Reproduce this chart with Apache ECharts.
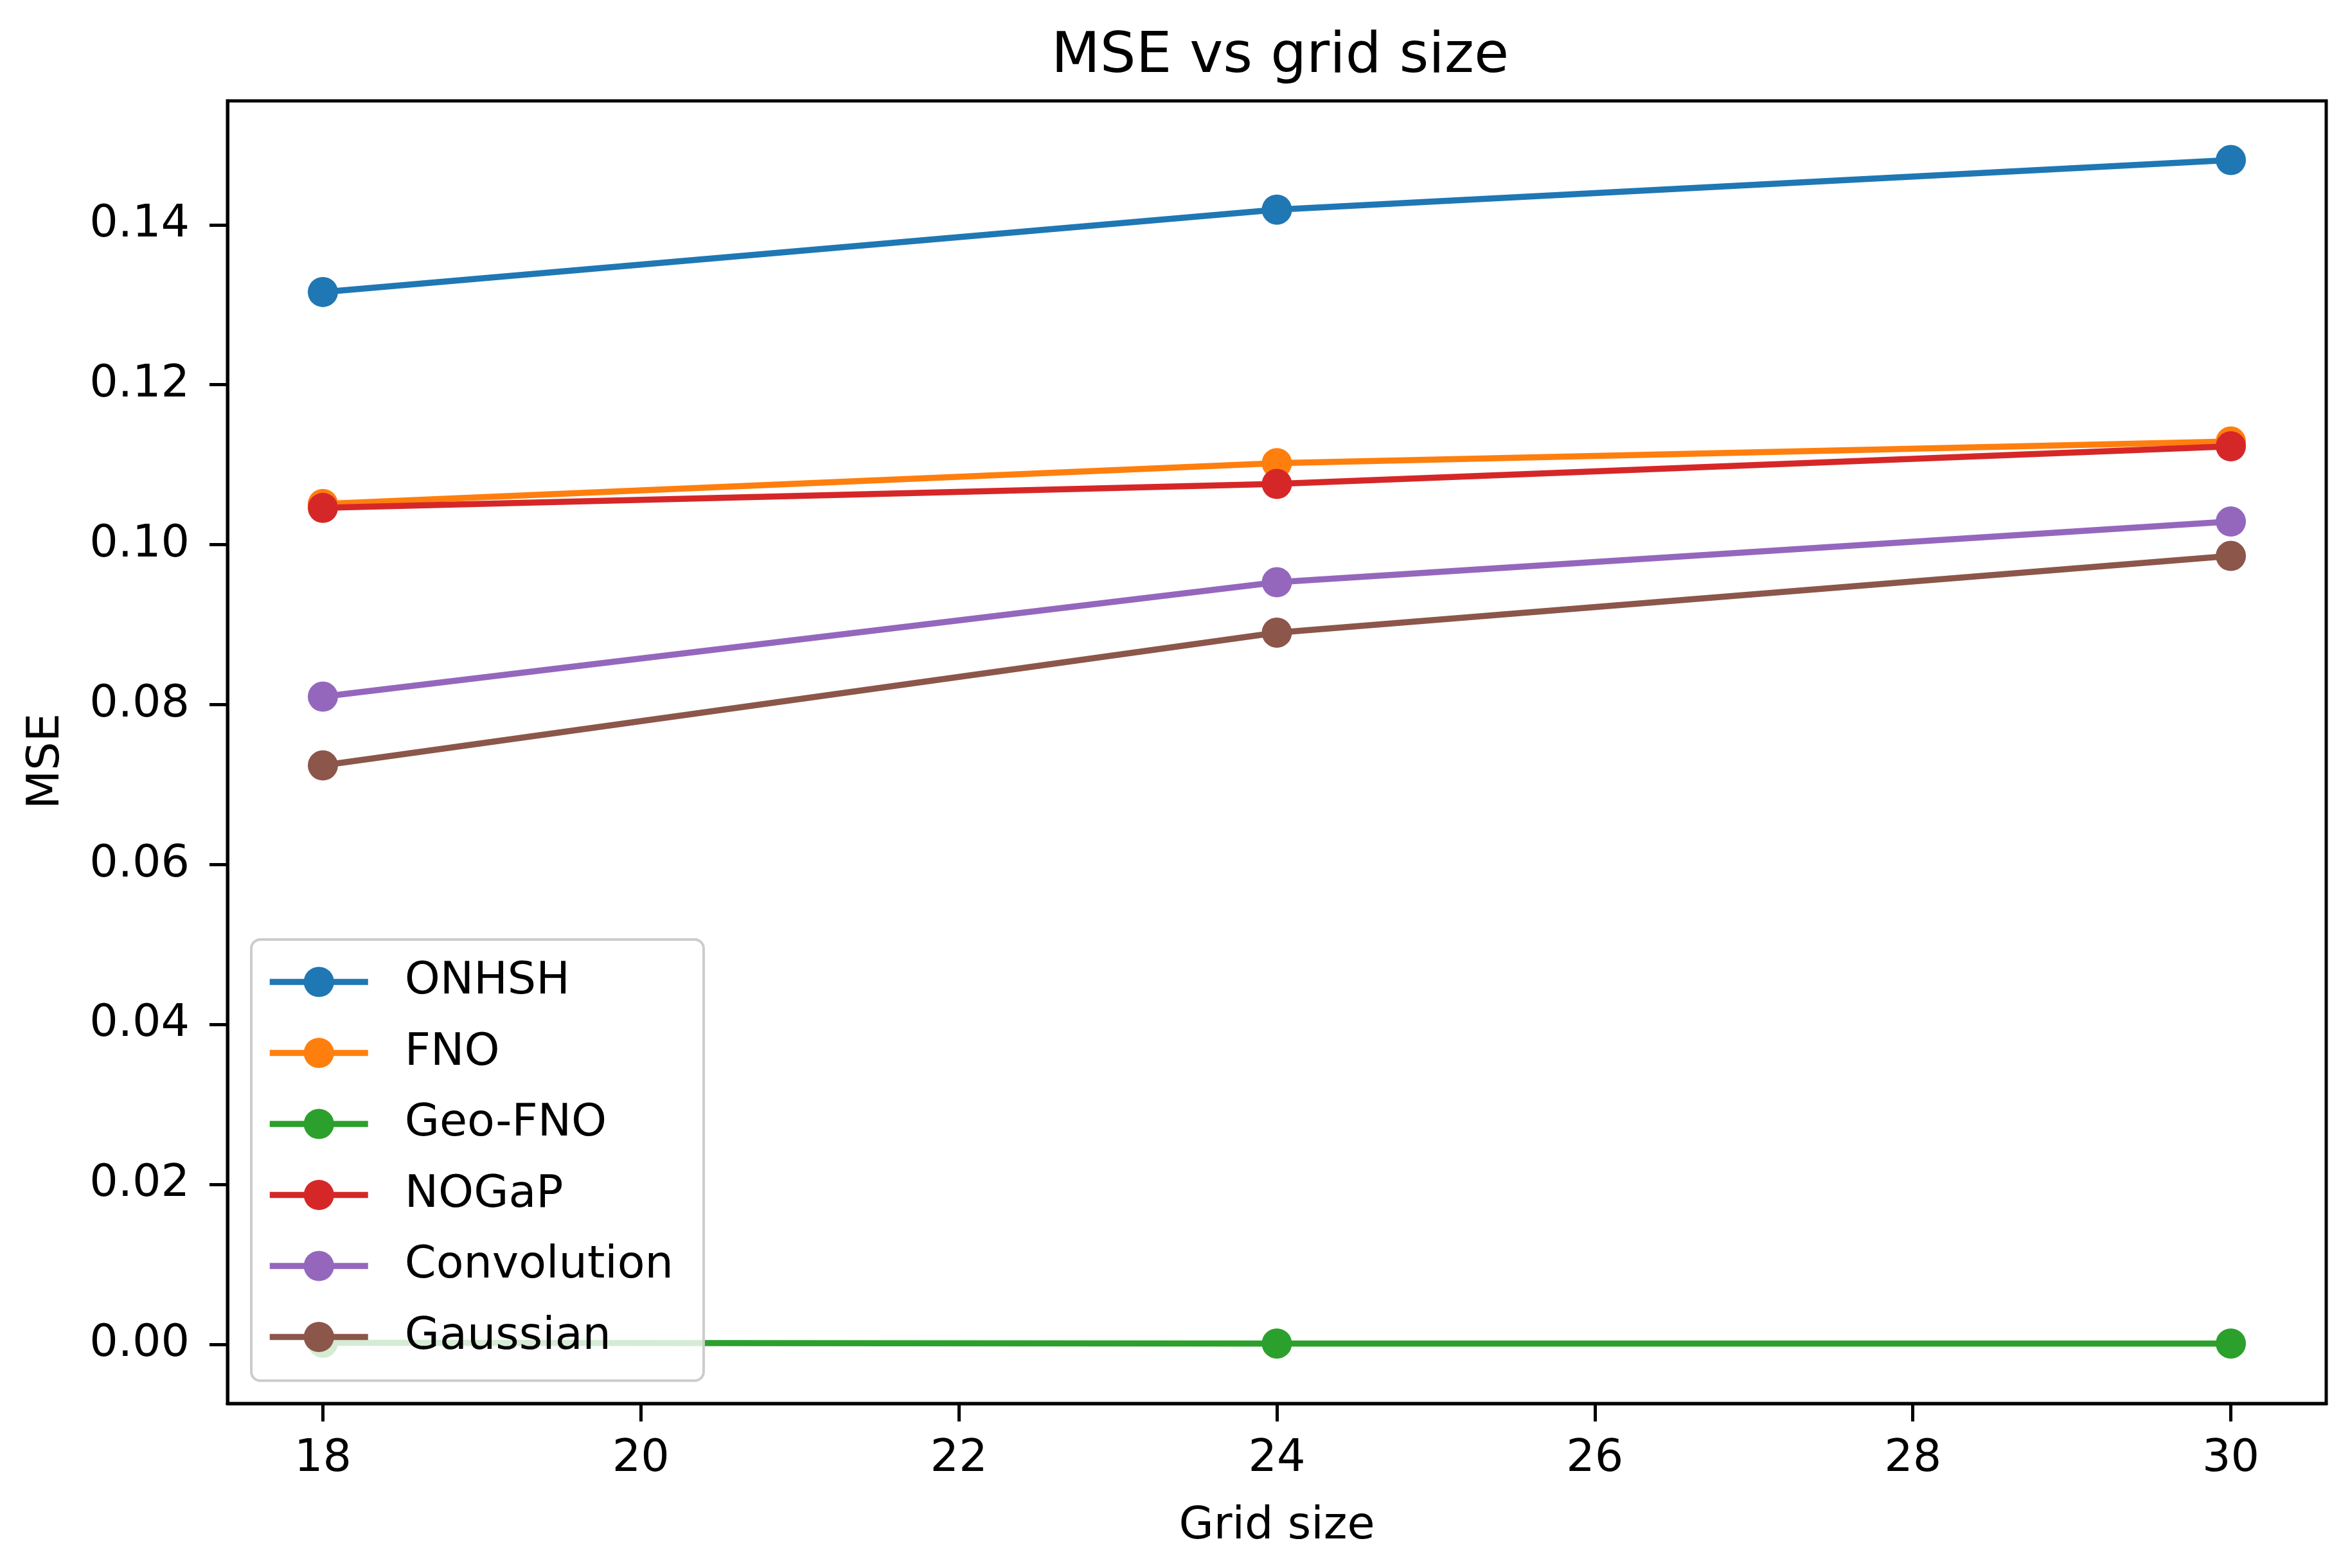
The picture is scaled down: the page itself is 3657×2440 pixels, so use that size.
<!DOCTYPE html>
<html>
<head>
<meta charset="utf-8">
<script src="https://cdn.jsdelivr.net/npm/echarts@6/dist/echarts.min.js"></script>
<style>
html,body{margin:0;padding:0;background:#fff;}
#chart{width:3657px;height:2440px;}
</style>
</head>
<body>
<div id="chart"></div>
<script>
// ---- data ----
var gridSizes = [18, 24, 30];
var seriesNames = ['ONHSH', 'FNO', 'Geo-FNO', 'NOGaP', 'Convolution', 'Gaussian'];
var onhsh = [0.1316, 0.1419, 0.1481];
var fno = [0.1051, 0.1102, 0.1129];
var geoFno = [0.0002, 0.0001, 0.0001];
var nogap = [0.1046, 0.1076, 0.1123];
var convolution = [0.0810, 0.0953, 0.1029];
var gaussian = [0.0724, 0.0890, 0.0986];
var xTicks = [18, 20, 22, 24, 26, 28, 30];
var yTicks = [0.00, 0.02, 0.04, 0.06, 0.08, 0.10, 0.12, 0.14];

var seriesValues = [onhsh, fno, geoFno, nogap, convolution, gaussian];
var colors = ['#1f77b4', '#ff7f0e', '#2ca02c', '#d62728', '#9467bd', '#8c564b'];

var FONT = 'DejaVu Sans';
var chart = echarts.init(document.getElementById('chart'), null, {renderer: 'canvas'});

var series = seriesNames.map(function (name, i) {
  return {
    name: name,
    type: 'line',
    data: gridSizes.map(function (x, j) { return [x, seriesValues[i][j]]; }),
    symbol: 'circle',
    symbolSize: 47,
    showSymbol: true,
    lineStyle: {color: colors[i], width: 9.5},
    itemStyle: {color: colors[i]},
    emphasis: {disabled: true},
    animation: false
  };
});

var option = {
  backgroundColor: '#ffffff',
  animation: false,
  color: colors,
  title: {
    text: 'MSE vs grid size',
    left: 1987,
    textAlign: 'center',
    top: 40,
    textStyle: {fontFamily: FONT, fontSize: 88, fontWeight: 'normal', color: '#000'}
  },
  grid: {
    left: 354, top: 157, width: 3266, height: 2027,
    show: true, borderColor: '#000', borderWidth: 5, backgroundColor: 'transparent'
  },
  legend: {
    orient: 'vertical',
    left: 391, top: 1462,
    padding: [31, 47, 33, 24],
    itemWidth: 153, itemHeight: 59,
    itemGap: 40.5,
    backgroundColor: 'rgba(255,255,255,0.8)',
    borderColor: '#cccccc',
    borderWidth: 4,
    borderRadius: 14,
    lineStyle: {width: 9.5},
    textStyle: {fontFamily: FONT, fontSize: 70, color: '#000', padding: [0, 0, 0, 52]},
    data: seriesNames
  },
  xAxis: {
    type: 'value',
    min: 17.4, max: 30.6,
    name: 'Grid size',
    nameLocation: 'middle',
    nameGap: 157,
    nameTextStyle: {fontFamily: FONT, fontSize: 70, color: '#000'},
    axisLine: {show: true, onZero: false, lineStyle: {color: '#000', width: 5}},
    axisTick: {show: true, length: 28, lineStyle: {color: '#000', width: 5}, customValues: xTicks},
    axisLabel: {show: true, margin: 52, fontFamily: FONT, fontSize: 70, color: '#000', customValues: xTicks,
      formatter: function (v) { return String(v); }},
    splitLine: {show: false}
  },
  yAxis: {
    type: 'value',
    min: -0.0074, max: 0.1555,
    name: 'MSE',
    nameLocation: 'middle',
    nameGap: 246,
    nameTextStyle: {fontFamily: FONT, fontSize: 70, color: '#000', padding: [0, 28, 0, 0]},
    axisLine: {show: true, onZero: false, lineStyle: {color: '#000', width: 5}},
    axisTick: {show: true, length: 28, lineStyle: {color: '#000', width: 5}, customValues: yTicks},
    axisLabel: {show: true, margin: 59, fontFamily: FONT, fontSize: 70, color: '#000', customValues: yTicks,
      formatter: function (v) { return Number(v).toFixed(2); }},
    splitLine: {show: false}
  },
  series: series
};
chart.setOption(option);
</script>
</body>
</html>
